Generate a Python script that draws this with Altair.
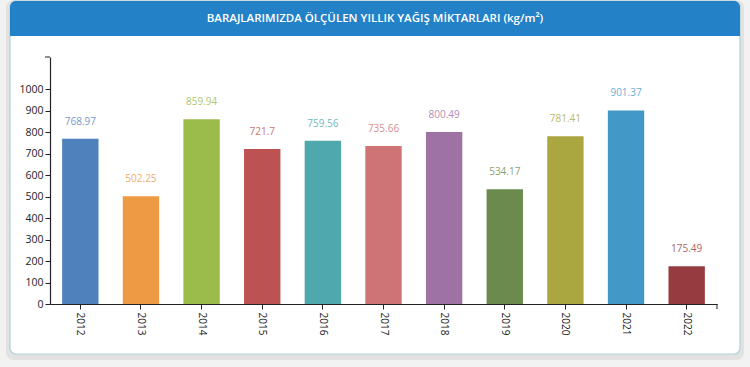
import altair as alt
import pandas as pd

years = ["2012", "2013", "2014", "2015", "2016", "2017", "2018", "2019", "2020", "2021", "2022"]
values = [768.97, 502.25, 859.94, 721.7, 759.56, 735.66, 800.49, 534.17, 781.41, 901.37, 175.49]
colors = ["#4f81bd", "#ee9a45", "#9bbb4b", "#bd5252", "#4fa8ab", "#cf7476",
          "#9e72a3", "#6a8a4e", "#aaa640", "#4299c8", "#963c40"]
labels = ["768.97", "502.25", "859.94", "721.7", "759.56", "735.66", "800.49", "534.17", "781.41", "901.37", "175.49"]
y_ticks = [0, 100, 200, 300, 400, 500, 600, 700, 800, 900, 1000]
title_text = "BARAJLARIMIZDA ÖLÇÜLEN YILLIK YAĞIŞ MİKTARLARI (kg/m²)"

W, H = 667, 247
df = pd.DataFrame({"year": years, "value": values, "label": labels})

FONT = "Open Sans"

x_axis = alt.Axis(title=None, labelAngle=90, labelAlign="left", labelBaseline="middle",
                  labelColor="#222", labelFontSize=10, labelFont=FONT, tickColor="#222",
                  domainColor="#222", tickSize=5, labelPadding=3, ticks=True, zindex=1,
                  labelOverlap=False)
y_axis = alt.Axis(title=None, values=y_ticks, format="d", labelColor="#222",
                  labelFontSize=10.5, labelFont=FONT, tickColor="#222", domainColor="#222",
                  tickSize=5, grid=False, labelPadding=2, zindex=1,
                  labelOverlap=False, labelFlush=False)
x_scale = alt.Scale(paddingInner=0.4, paddingOuter=0.2)
y_scale = alt.Scale(domain=[0, 1150], nice=False)
color_scale = alt.Scale(domain=years, range=colors)

# decorations (card, header, shadow)
deco = pd.DataFrame({"k": [1]})
shadow = alt.Chart(deco).mark_rect(color="#e2e2e2", cornerRadius=8).encode(
    x=alt.value(-44), x2=alt.value(694), y=alt.value(-57), y2=alt.value(303))
card = alt.Chart(deco).mark_rect(color="white", stroke="#b3d1dc", strokeWidth=1.2, cornerRadius=6).encode(
    x=alt.value(-40), x2=alt.value(690), y=alt.value(-56), y2=alt.value(297))
header = alt.Chart(deco).mark_rect(color="#2381c8", cornerRadiusTopLeft=6, cornerRadiusTopRight=6).encode(
    x=alt.value(-40), x2=alt.value(690), y=alt.value(-56), y2=alt.value(-21))
tdf = pd.DataFrame({"t": [title_text]})
title = alt.Chart(tdf).mark_text(color="white", fontSize=11.5, fontWeight=600, font=FONT,
                                 align="center", baseline="middle").encode(
    x=alt.value(325), y=alt.value(-38), text="t:N")

bars = alt.Chart(df).mark_bar().encode(
    x=alt.X("year:N", sort=years, scale=x_scale, axis=x_axis),
    y=alt.Y("value:Q", scale=y_scale, axis=y_axis),
    color=alt.Color("year:N", scale=color_scale, legend=None),
)
text = alt.Chart(df).mark_text(fontSize=10, font=FONT, baseline="bottom", dy=-12, opacity=0.8).encode(
    x=alt.X("year:N", sort=years, scale=x_scale, axis=x_axis),
    y=alt.Y("value:Q", scale=y_scale, axis=y_axis),
    text="label:N",
    color=alt.Color("year:N", scale=color_scale, legend=None),
)
top_tick = alt.Chart(deco).mark_rule(color="#222").encode(
    x=alt.value(-5), x2=alt.value(0), y=alt.value(0))
right_tick = alt.Chart(deco).mark_rule(color="#222").encode(
    x=alt.value(W), y=alt.value(H), y2=alt.value(H + 5))

chart = alt.layer(shadow, card, header, title, bars, text, top_tick, right_tick).properties(
    width=W, height=H,
    autosize=alt.AutoSizeParams(type="none"),
    padding={"left": 50, "top": 57, "right": 33, "bottom": 63},
    background="#f2f2f2",
).configure_view(stroke=None).configure_axis(domainWidth=1.2)

chart.save("out.html", embed_options={"renderer": "svg", "actions": False})
